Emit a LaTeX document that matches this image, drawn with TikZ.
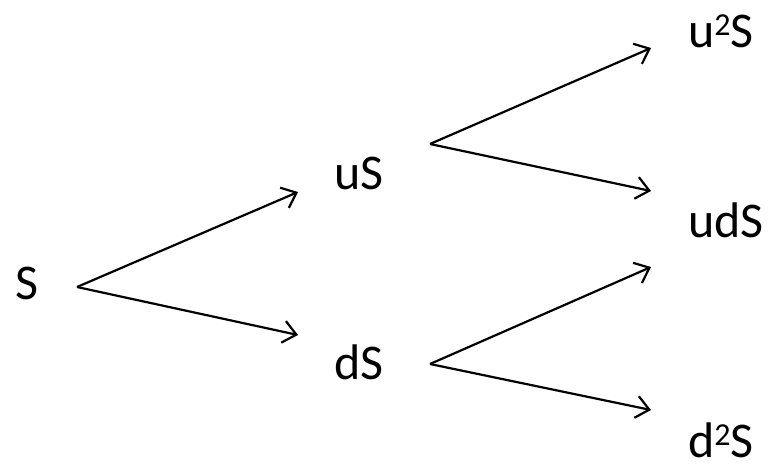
\documentclass[tikz,border=0pt]{standalone}
\usepackage{fontspec}
\setmainfont{Carlito}
\usetikzlibrary{arrows.meta}
\begin{document}
\begin{tikzpicture}[x=1pt,y=1pt,
  price/.style={anchor=base west, inner sep=0pt, outer sep=0pt,
    font=\fontsize{50}{56}\selectfont},
  branch/.style={line width=2.2pt, -{Straight Barb[length=13pt,width=22pt,line width=2.2pt]}}]
\useasboundingbox (0,0) rectangle (768,-464);
\newcommand{\sqr}{\raisebox{12pt}{\fontsize{32}{32}\selectfont 2}}
% prices at each step
\node[price] (s0)  at (15,-299) {S};
\node[price] (su)  at (334,-189) {uS};
\node[price] (sd)  at (334,-379) {dS};
\node[price] (suu) at (688,-47) {u\sqr S};
\node[price] (sud) at (688,-237) {udS};
\node[price] (sdd) at (688,-457) {d\sqr S};
% branch end points
\coordinate (s0-out)  at (77,-287);
\coordinate (su-in)   at (298,-192);
\coordinate (sd-in)   at (298,-335);
\coordinate (su-out)  at (430,-144);
\coordinate (sd-out)  at (430,-364);
\coordinate (suu-in)  at (651,-48);
\coordinate (sud-in1) at (651,-191);
\coordinate (sud-in2) at (651,-267);
\coordinate (sdd-in)  at (651,-410);
% branches
\draw[branch] (s0-out) -- (su-in);
\draw[branch] (s0-out) -- (sd-in);
\draw[branch] (su-out) -- (suu-in);
\draw[branch] (su-out) -- (sud-in1);
\draw[branch] (sd-out) -- (sud-in2);
\draw[branch] (sd-out) -- (sdd-in);
\end{tikzpicture}
\end{document}
